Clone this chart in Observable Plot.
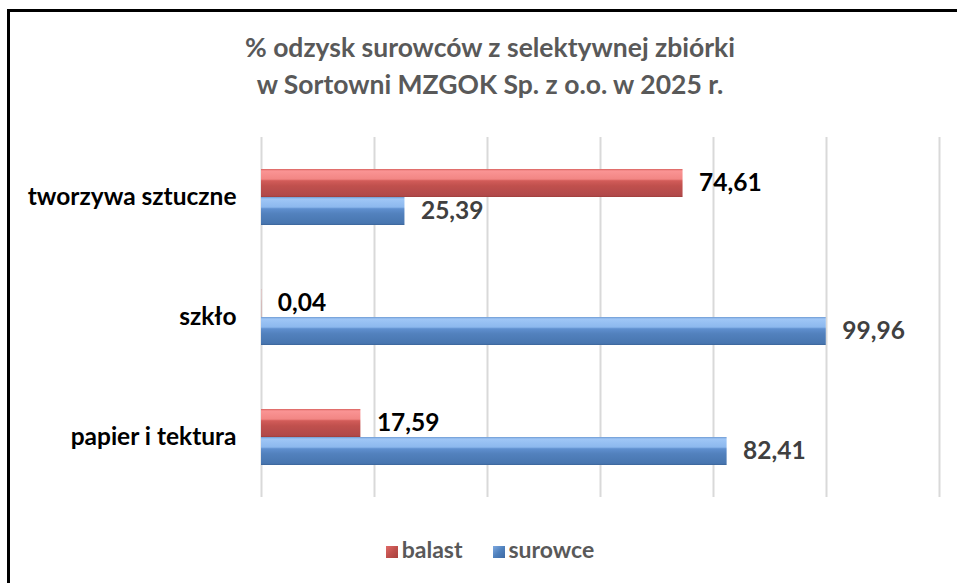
<!DOCTYPE html>
<html>
<head>
<meta charset="utf-8">
<script src="https://cdn.jsdelivr.net/npm/d3@7"></script>
<script src="https://cdn.jsdelivr.net/npm/@observablehq/plot@0.6"></script>
<style>
  html, body { margin: 0; padding: 0; background: #fff; }
  body { width: 957px; height: 583px; position: relative; overflow: hidden; font-family: Lato, "Open Sans", sans-serif; }
  #frame { position: absolute; left: 7px; top: 9px; width: 960px; height: 590px; border-top: 3px solid #000; border-left: 3px solid #000; box-sizing: border-box; }
  #title { position: absolute; left: 0; width: 980px; top: 29px; text-align: center; font-weight: 700; font-size: 26.5px; line-height: 37px; color: #595959; white-space: nowrap; }
  #chart { position: absolute; left: 0; top: 126px; }
  #legend { position: absolute; left: 0; width: 980px; top: 535px; text-align: center; font-size: 23px; font-weight: 700; color: #595959; line-height: 28px; white-space: nowrap; }
  #legend .item { display: inline-block; margin: 0 15px; }
  #legend .sw { display: inline-block; width: 12px; height: 12px; margin-right: 4px; vertical-align: 0px; }
  #chart svg [aria-label="fy-axis tick label"] text, #chart svg g[aria-label="fy-axis tick label"] { font-weight: 700; font-size: 24.5px; fill: #000; }
</style>
</head>
<body>
<div id="frame"></div>
<div id="title">% odzysk surowców z selektywnej zbiórki<br>w Sortowni MZGOK Sp. z o.o. w 2025 r.</div>
<div id="chart"></div>
<div id="legend"></div>
<svg width="0" height="0" style="position:absolute">
  <defs>
    <linearGradient id="gRed" x1="0" y1="0" x2="0" y2="1">
      <stop offset="0" stop-color="#d8625f"/>
      <stop offset="0.07" stop-color="#fa9494"/>
      <stop offset="0.36" stop-color="#f28684"/>
      <stop offset="0.42" stop-color="#d25c59"/>
      <stop offset="0.6" stop-color="#c0504d"/>
      <stop offset="0.94" stop-color="#b1494a"/>
      <stop offset="1" stop-color="#9e3e3b"/>
    </linearGradient>
    <linearGradient id="gBlue" x1="0" y1="0" x2="0" y2="1">
      <stop offset="0" stop-color="#6f9bd3"/>
      <stop offset="0.07" stop-color="#9fc6f6"/>
      <stop offset="0.36" stop-color="#8cb8ee"/>
      <stop offset="0.42" stop-color="#5f8fcf"/>
      <stop offset="0.6" stop-color="#5281bd"/>
      <stop offset="0.94" stop-color="#4876b0"/>
      <stop offset="1" stop-color="#3b6498"/>
    </linearGradient>
  </defs>
</svg>
<script>
const categories = ["tworzywa sztuczne", "szkło", "papier i tektura"];
const series = ["balast", "surowce"];
const balast = [74.61, 0.04, 17.59];
const surowce = [25.39, 99.96, 82.41];
const ticks = [0, 20, 40, 60, 80, 100, 120];

const rows = [];
categories.forEach((c, i) => {
  rows.push({category: c, series: "balast", value: balast[i]});
  rows.push({category: c, series: "surowce", value: surowce[i]});
});
const fmt = v => d3.format(".2f")(v).replace(".", ",");

const chart = Plot.plot({
  width: 957,
  height: 377,
  marginLeft: 261,
  marginRight: 18,
  marginTop: 10,
  marginBottom: 6,
  style: {fontFamily: "Lato, 'Open Sans', sans-serif", background: "transparent"},
  x: {domain: [0, 120], axis: null},
  y: {domain: series, paddingInner: 0, paddingOuter: 1.07, axis: null},
  fy: {domain: categories, padding: 0, axis: "left", label: null, tickSize: 0, tickPadding: 25},
  marks: [
    Plot.ruleX(ticks, {stroke: "#d9d9d9", strokeWidth: 2}),
    Plot.barX(rows.filter(d => d.series === "balast"), {x: "value", y: "series", fy: "category", fill: "url(#gRed)"}),
    Plot.barX(rows.filter(d => d.series === "surowce"), {x: "value", y: "series", fy: "category", fill: "url(#gBlue)"}),
    Plot.text(rows, {
      x: "value", y: "series", fy: "category", text: d => fmt(d.value),
      textAnchor: "start", dx: 16, fontSize: 24.5, fontWeight: 700,
      fill: d => d.series === "balast" ? "#000000" : "#404040"
    })
  ]
});
document.getElementById("chart").appendChild(chart);

const legend = document.getElementById("legend");
const swatch = {balast: "linear-gradient(135deg,#e06a67 0%,#c0504d 50%,#a8403d 100%)", surowce: "linear-gradient(135deg,#7fa9e0 0%,#4f81bd 50%,#3f6aa3 100%)"};
series.forEach(s => {
  const item = document.createElement("span");
  item.className = "item";
  const sw = document.createElement("span");
  sw.className = "sw";
  sw.style.background = swatch[s];
  item.appendChild(sw);
  item.appendChild(document.createTextNode(s));
  legend.appendChild(item);
});
</script>
</body>
</html>
